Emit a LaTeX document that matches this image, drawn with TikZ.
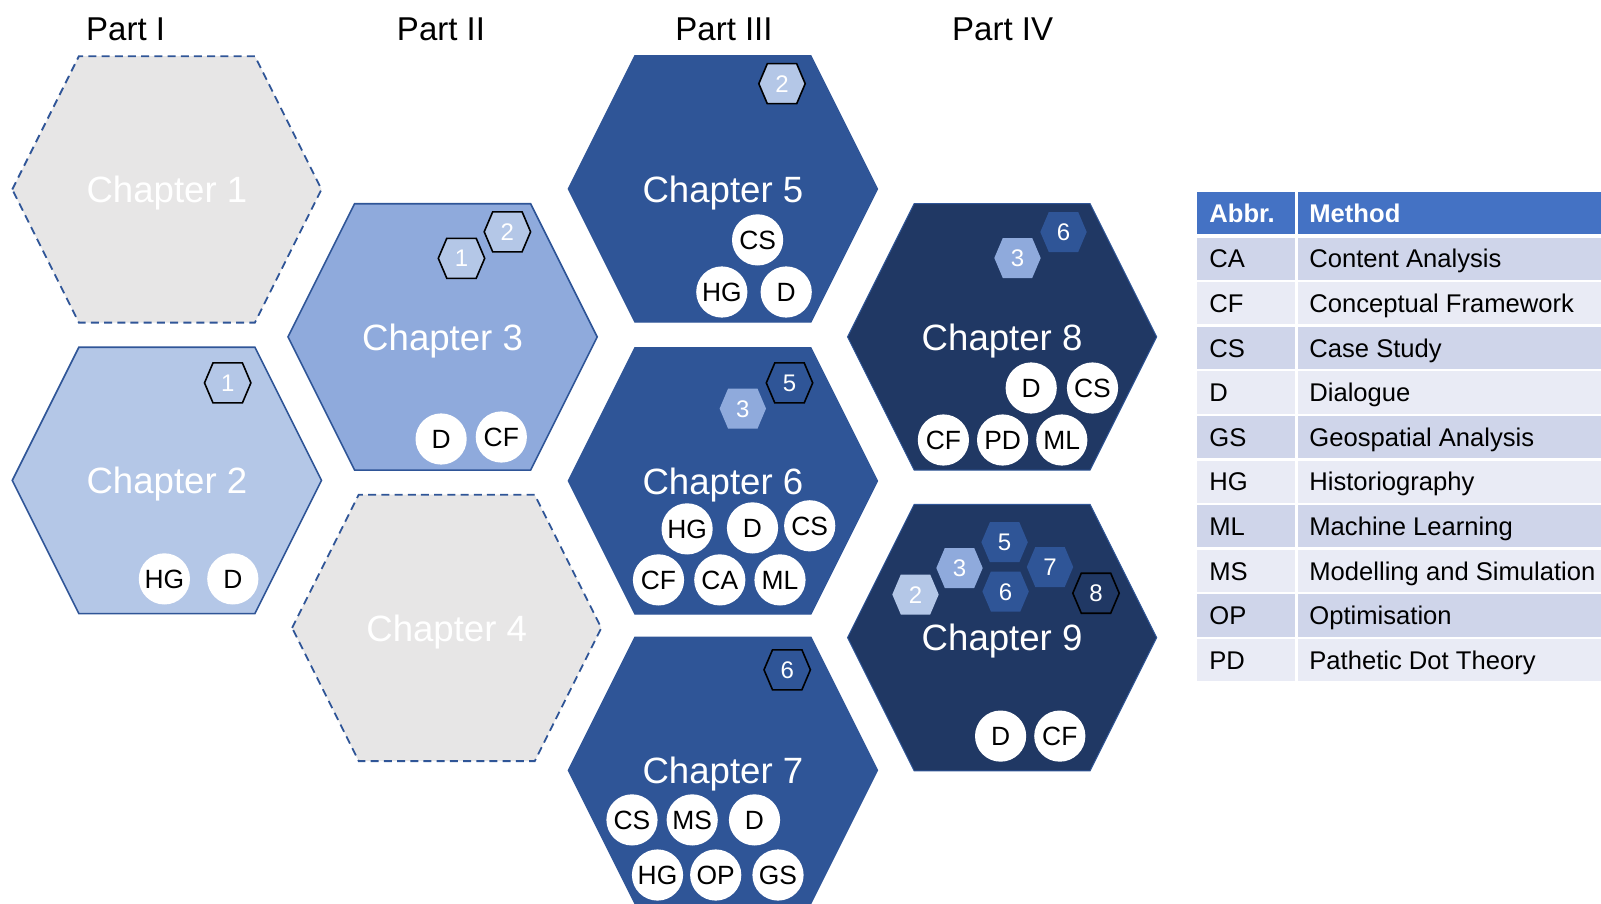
\documentclass[tikz,border=0pt]{standalone}
\usepackage{fontspec}
\setmainfont{Liberation Sans}

\definecolor{greyfill}{HTML}{E7E6E6}
\definecolor{pale}{HTML}{B4C7E7}
\definecolor{mid}{HTML}{8FAADC}
\definecolor{deep}{HTML}{2F5597}
\definecolor{navy}{HTML}{203864}
\definecolor{edge}{HTML}{2F5597}
\definecolor{headblue}{HTML}{4472C4}
\definecolor{rowdark}{HTML}{CFD5EA}
\definecolor{rowlight}{HTML}{E9EBF5}

% flat-topped hexagon: centre x, centre y, half width, half height, inset of the top edge, style
\newcommand\hexat[6]{%
  \path[#6] ({#1-#3},#2) -- ({#1-#3+#5},{#2-#4}) -- ({#1+#3-#5},{#2-#4})
    -- ({#1+#3},#2) -- ({#1+#3-#5},{#2+#4}) -- ({#1-#3+#5},{#2+#4}) -- cycle;}
% chapter hexagon with its label node: name, x, y, style, text
\newcommand\chapterhex[5]{%
  \hexat{#2}{#3}{154.6}{133.2}{66.6}{#4}%
  \node[chaplabel] (#1) at (#2,#3) {#5};}
% small numbered hexagon: name, x, y, style, number
\newcommand\badge[5]{%
  \hexat{#2}{#3}{23.2}{20}{8.5}{#4}%
  \node[badgetext] (#1) at (#2,#3) {#5};}

\begin{document}
\begin{tikzpicture}[x=0.5pt,y=-0.5pt,
  capbox/.style={inner sep=0pt,text height=#1,text depth=0pt},
  chaplabel/.style={capbox=13.1pt,text=white,font=\fontsize{18.3}{22}\selectfont},
  partlabel/.style={capbox=11.8pt,text=black,font=\fontsize{16.5}{20}\selectfont},
  method/.style={capbox=9.4pt,circle,fill=white,minimum size=25.6pt,text=black,font=\fontsize{13.2}{15}\selectfont},
  badgetext/.style={capbox=8.6pt,text=white,font=\fontsize{12}{14}\selectfont},
  cell/.style={capbox=9.2pt,anchor=west,text=black,font=\fontsize{12.8}{15}\selectfont},
  headcell/.style={cell,text=white,font=\fontsize{12.8}{15}\selectfont\bfseries},
  emptyhex/.style={fill=greyfill,draw=edge,line width=0.9pt,dash pattern=on 4pt off 2.6pt},
  hexA/.style={fill=pale,draw=edge,line width=0.8pt},
  hexB/.style={fill=mid,draw=edge,line width=0.8pt},
  hexC/.style={fill=deep,draw=deep,line width=0.6pt},
  hexD/.style={fill=navy,draw=edge,line width=0.5pt},
  ring/.style={draw=black,line width=0.8pt}
]
\useasboundingbox (0,0) rectangle (1601,904);

% part headings
\node[partlabel] (p1) at (125.6,28.6) {Part I};
\node[partlabel] (p2) at (441,28.6) {Part II};
\node[partlabel] (p3) at (724,28.6) {Part III};
\node[partlabel] (p4) at (1002.6,28.6) {Part IV};

% chapter hexagons
\chapterhex{ch1}{166.9}{189.4}{emptyhex}{Chapter 1}
\chapterhex{ch2}{166.9}{480.4}{hexA}{Chapter 2}
\chapterhex{ch3}{442.6}{336.9}{hexB}{Chapter 3}
\chapterhex{ch4}{446.7}{627.9}{emptyhex}{Chapter 4}
\chapterhex{ch5}{722.9}{188.9}{hexC}{Chapter 5}
\chapterhex{ch6}{722.9}{480.9}{hexC}{Chapter 6}
\chapterhex{ch7}{722.9}{770.3}{hexC}{Chapter 7}
\chapterhex{ch8}{1002.1}{336.9}{hexD}{Chapter 8}
\chapterhex{ch9}{1002.1}{637.6}{hexD}{Chapter 9}

% numbered hexagons: earlier chapters each one builds on
\badge{b2a}{227.7}{382.9}{fill=pale,ring}{1}
\badge{b3a}{461.5}{258.3}{fill=pale,ring}{1}
\badge{b3b}{507.4}{231.8}{fill=pale,ring}{2}
\badge{b5a}{782}{83.7}{fill=pale,ring}{2}
\badge{b6a}{742.8}{408.6}{fill=mid}{3}
\badge{b6b}{789.5}{382.9}{fill=deep,ring}{5}
\badge{b7a}{787.2}{669.8}{fill=deep,ring}{6}
\badge{b8a}{1017.5}{258}{fill=mid}{3}
\badge{b8b}{1063.5}{232}{fill=deep}{6}
\badge{b9a}{915.5}{594.5}{fill=pale}{2}
\badge{b9b}{959.5}{568}{fill=mid}{3}
\badge{b9c}{1004.6}{542.2}{fill=deep}{5}
\badge{b9d}{1005.6}{591.5}{fill=deep}{6}
\badge{b9e}{1050}{567}{fill=deep}{7}
\badge{b9f}{1096}{593.2}{fill=navy,ring}{8}

% methods used in each chapter
\node[method] (m2a) at (164.4,578.9) {HG};
\node[method] (m2b) at (232.8,578.9) {D};

\node[method] (m3a) at (441.1,439) {D};
\node[method] (m3b) at (501.3,437) {CF};

\node[method] (m5a) at (757.6,239.9) {CS};
\node[method] (m5b) at (721.8,292) {HG};
\node[method] (m5c) at (786.2,292) {D};

\node[method] (m6a) at (687.1,528.9) {HG};
\node[method] (m6b) at (752.5,527.9) {D};
\node[method] (m6c) at (809.7,525.8) {CS};
\node[method] (m6d) at (658.5,579.9) {CF};
\node[method] (m6e) at (719.8,579.9) {CA};
\node[method] (m6f) at (780,579.9) {ML};

\node[method] (m7a) at (632,819.9) {CS};
\node[method] (m7b) at (692.2,819.9) {MS};
\node[method] (m7c) at (754.5,819.9) {D};
\node[method] (m7d) at (657.5,875) {HG};
\node[method] (m7e) at (715.7,875) {OP};
\node[method] (m7f) at (778,875) {GS};

\node[method] (m8a) at (1031.2,388) {D};
\node[method] (m8b) at (1092.5,388) {CS};
\node[method] (m8c) at (943.4,440) {CF};
\node[method] (m8d) at (1002.6,440) {PD};
\node[method] (m8e) at (1061.8,440) {ML};

\node[method] (m9a) at (1000.6,736.1) {D};
\node[method] (m9b) at (1059.8,736.1) {CF};

% abbreviation table
\fill[headblue] (1197,192) rectangle (1295,234);
\fill[headblue] (1297.5,192) rectangle (1601,234);
\node[headcell] (habbr) at (1209,213) {Abbr.};
\node[headcell] (hmeth) at (1309,213) {Method};
\foreach \ab/\me/\shade [count=\i from 0] in {
    CA/Content Analysis/rowdark,
    CF/Conceptual Framework/rowlight,
    CS/Case Study/rowdark,
    D/Dialogue/rowlight,
    GS/Geospatial Analysis/rowdark,
    HG/Historiography/rowlight,
    ML/Machine Learning/rowdark,
    MS/Modelling and Simulation/rowlight,
    OP/Optimisation/rowdark,
    PD/Pathetic Dot Theory/rowlight} {
  \fill[\shade] (1197,{237.5+44.6*\i}) rectangle (1295,{279.8+44.6*\i});
  \fill[\shade] (1297.5,{237.5+44.6*\i}) rectangle (1601,{279.8+44.6*\i});
  \node[cell] (ab\i) at (1209,{258.6+44.6*\i}) {\ab};
  \node[cell] (me\i) at (1309,{258.6+44.6*\i}) {\me};
}
\end{tikzpicture}
\end{document}
